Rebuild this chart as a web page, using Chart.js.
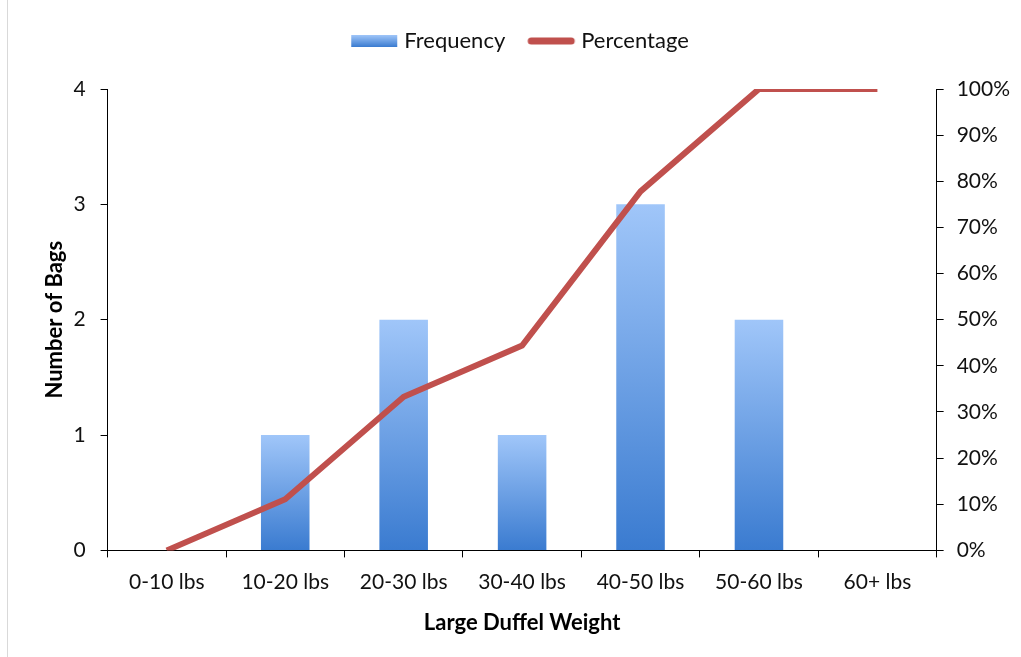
<!DOCTYPE html>
<html>
<head>
<meta charset="utf-8">
<script src="https://cdn.jsdelivr.net/npm/chart.js@4.4.1/dist/chart.umd.min.js"></script>
<style>
  html, body { margin: 0; padding: 0; background: #fff; }
  #wrap { position: relative; width: 1021px; height: 657px; }
  #edge { position: absolute; left: 7px; top: 0; width: 1px; height: 657px; background: #d9d9d9; }
</style>
</head>
<body>
<div id="wrap">
  <div id="edge"></div>
  <canvas id="chart" width="1021" height="657"></canvas>
</div>
<script>
const categories = ['0-10 lbs', '10-20 lbs', '20-30 lbs', '30-40 lbs', '40-50 lbs', '50-60 lbs', '60+ lbs'];
const frequency = [0, 1, 2, 1, 3, 2, 0];
const percentage = [0, 11.1, 33.3, 44.4, 77.8, 100, 100];

const FONT = 'Lato, "Open Sans", sans-serif';
const LINE_RED = '#C0504D';
const TEXT = '#111';

function barGradient(context) {
  const chart = context.chart;
  const { ctx, chartArea, scales } = chart;
  if (!chartArea || context.type !== 'data') return '#5b8fd9';
  const top = scales.y.getPixelForValue(context.raw);
  const bottom = scales.y.getPixelForValue(0);
  if (top === bottom) return '#5b8fd9';
  const g = ctx.createLinearGradient(0, top, 0, bottom);
  g.addColorStop(0, '#a0c6f9');
  g.addColorStop(1, '#3a7bd0');
  return g;
}

// legend swatches drawn on small canvases
function legendIcon(kind) {
  const c = document.createElement('canvas');
  c.width = 50; c.height = 16;
  const x = c.getContext('2d');
  if (kind === 'bar') {
    const g = x.createLinearGradient(0, 2, 0, 14);
    g.addColorStop(0, '#a0c6f9');
    g.addColorStop(1, '#3a7bd0');
    x.fillStyle = g;
    x.fillRect(2, 2, 46, 12);
  } else {
    x.strokeStyle = LINE_RED;
    x.lineWidth = 7;
    x.lineCap = 'round';
    x.beginPath();
    x.moveTo(5, 8);
    x.lineTo(45, 8);
    x.stroke();
  }
  return c;
}

// leave a gap under the legend like the original
const legendGap = {
  id: 'legendGap',
  beforeInit(chart) {
    const fit = chart.legend.fit;
    chart.legend.fit = function () {
      fit.call(this);
      this.height += 27;
    };
  }
};

const axisGrid = { drawOnChartArea: false, drawTicks: true, tickLength: 7, color: '#000', lineWidth: 1 };

new Chart(document.getElementById('chart'), {
  type: 'bar',
  data: {
    labels: categories,
    datasets: [
      {
        type: 'line',
        label: 'Percentage',
        data: percentage,
        yAxisID: 'y1',
        borderColor: LINE_RED,
        backgroundColor: LINE_RED,
        borderWidth: 6,
        pointRadius: 0,
        tension: 0,
        order: 0,
        pointStyle: legendIcon('line')
      },
      {
        type: 'bar',
        label: 'Frequency',
        data: frequency,
        yAxisID: 'y',
        backgroundColor: barGradient,
        categoryPercentage: 1,
        barPercentage: 0.41,
        order: 1,
        pointStyle: legendIcon('bar')
      }
    ]
  },
  plugins: [legendGap],
  options: {
    responsive: false,
    animation: false,
    layout: { padding: { left: 21, right: -2, top: 3, bottom: 21 } },
    plugins: {
      tooltip: { enabled: false },
      legend: {
        position: 'top',
        reverse: true,
        labels: {
          usePointStyle: true,
          pointStyleWidth: 38,
          color: TEXT,
          font: { family: FONT, size: 22 },
          padding: 27
        }
      }
    },
    scales: {
      x: {
        offset: true,
        grid: Object.assign({ offset: true }, axisGrid),
        border: { color: '#000', width: 1 },
        ticks: { color: TEXT, font: { family: FONT, size: 21 }, padding: 12, maxRotation: 0 },
        title: { display: true, text: 'Large Duffel Weight', color: '#000', font: { family: FONT, size: 22, weight: 'bold' }, padding: { top: 3, bottom: 0 } }
      },
      y: {
        position: 'left',
        min: 0,
        max: 4,
        grid: axisGrid,
        border: { color: '#000', width: 1 },
        ticks: { stepSize: 1, color: TEXT, font: { family: FONT, size: 21 }, padding: 15 },
        title: { display: true, text: 'Number of Bags', color: '#000', font: { family: FONT, size: 22, weight: 'bold' }, padding: { top: 21, bottom: -10 } }
      },
      y1: {
        position: 'right',
        min: 0,
        max: 100,
        grid: axisGrid,
        border: { color: '#000', width: 1 },
        ticks: { stepSize: 10, color: TEXT, font: { family: FONT, size: 21 }, padding: 13, callback: v => v + '%' }
      }
    }
  }
});
</script>
</body>
</html>
